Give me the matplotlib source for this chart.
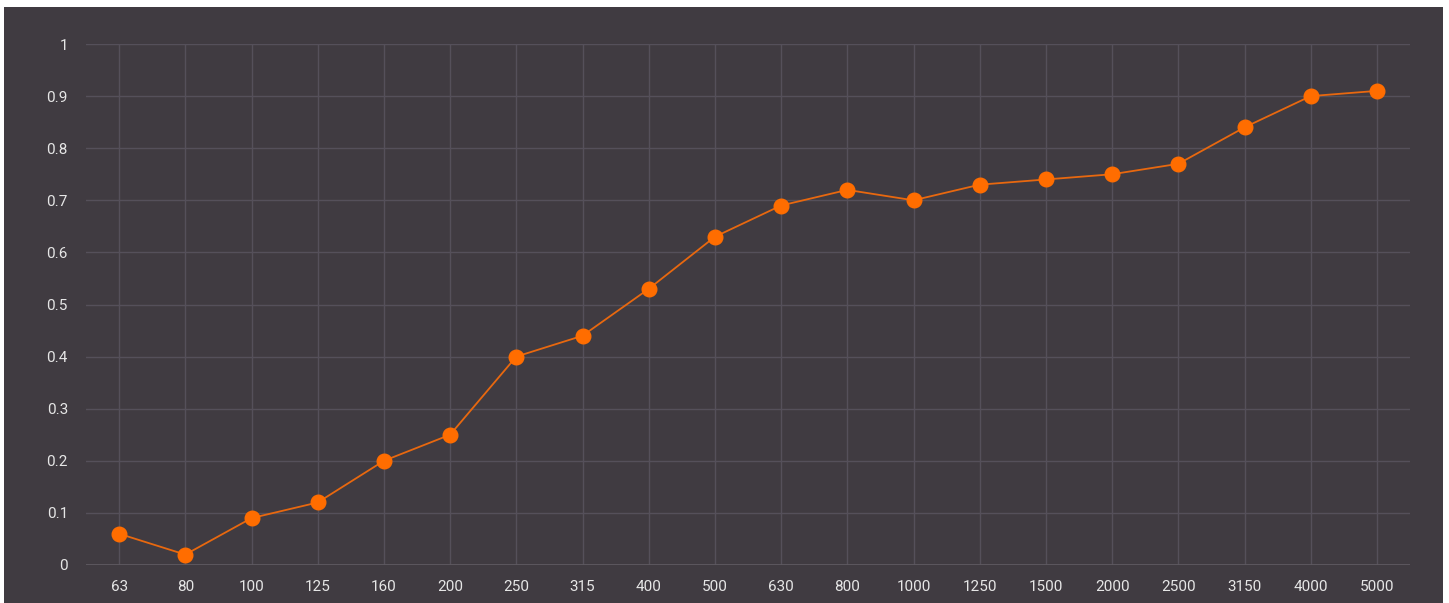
import matplotlib.pyplot as plt
from matplotlib.patches import Rectangle

freqs = ["63", "80", "100", "125", "160", "200", "250", "315", "400", "500",
         "630", "800", "1000", "1250", "1500", "2000", "2500", "3150", "4000", "5000"]
values = [0.06, 0.02, 0.09, 0.12, 0.20, 0.25, 0.40, 0.44, 0.53, 0.63,
          0.69, 0.72, 0.70, 0.73, 0.74, 0.75, 0.77, 0.84, 0.90, 0.91]
yticks = [0, 0.1, 0.2, 0.3, 0.4, 0.5, 0.6, 0.7, 0.8, 0.9, 1]
ytick_labels = ["0", "0.1", "0.2", "0.3", "0.4", "0.5", "0.6", "0.7", "0.8", "0.9", "1"]

bg = "#403b41"
grid_col = "#55505a"
text_col = "#e6e6e6"

plt.rcParams['font.family'] = ['Roboto', 'DejaVu Sans']

W, H = 1449, 603
fig = plt.figure(figsize=(W / 100, H / 100), dpi=100, facecolor="white")
fig.patches.append(Rectangle((4 / W, 0), 1439 / W, 1 - 7 / H,
                             transform=fig.transFigure, facecolor=bg,
                             edgecolor="none", zorder=-10))

ax = fig.add_axes([86 / W, 1 - 565 / H, (1410 - 86) / W, (565 - 44) / H])
ax.set_facecolor(bg)

x = list(range(len(freqs)))
ax.plot(x, values, color="#e8680f", linewidth=1.3, zorder=3)
ax.plot(x, values, linestyle="none", marker="o", markersize=10.5,
        markerfacecolor="#ff6d00", markeredgecolor="#ff6d00", zorder=4)

ax.set_xlim(-0.5, len(freqs) - 0.5)
ax.set_ylim(0, 1)
ax.set_xticks(x)
ax.set_xticklabels(freqs)
ax.set_yticks(yticks)
ax.set_yticklabels(ytick_labels)

ax.grid(True, color=grid_col, linewidth=1)
ax.set_axisbelow(True)
for s in ax.spines.values():
    s.set_visible(False)
ax.axhline(0, color="#5e5960", linewidth=1.3, zorder=2)
ax.tick_params(axis="both", length=0, colors=text_col, labelsize=11)
ax.tick_params(axis="y", pad=13)
ax.tick_params(axis="x", pad=11)

fig.savefig("out.png", dpi=100, facecolor="white")
